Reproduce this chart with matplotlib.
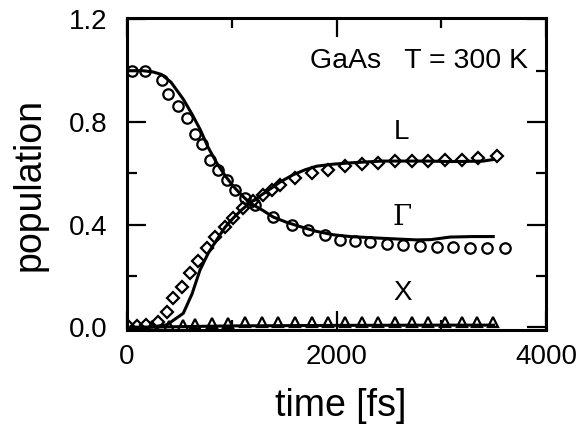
import matplotlib
matplotlib.use("Agg")
import matplotlib.pyplot as plt
from matplotlib.ticker import MultipleLocator

plt.rcParams['font.family'] = ['Liberation Sans', 'DejaVu Sans']

# Gamma valley, simulation (circles) and model (line)
gamma_t = [45, 172, 331, 394, 490, 569, 649, 713, 792, 871, 951, 1031, 1126, 1221,
           1396, 1571, 1730, 1889, 2032, 2176, 2319, 2478, 2637, 2796, 2955, 3114,
           3273, 3432, 3607]
gamma_v = [1.0, 1.0, 0.963, 0.911, 0.863, 0.817, 0.752, 0.713, 0.654, 0.615, 0.576,
           0.537, 0.504, 0.478, 0.43, 0.40, 0.378, 0.361, 0.341, 0.335, 0.331, 0.326,
           0.322, 0.318, 0.315, 0.315, 0.311, 0.309, 0.309]
gamma_fit_t = [0, 150, 250, 331, 420, 537, 617, 697, 776, 856, 935, 1014, 1094, 1174,
               1300, 1396, 1520, 1651, 1800, 1969, 2128, 2400, 2600, 2764, 2900, 3082,
               3300, 3496]
gamma_fit_v = [1.0, 1.0, 0.995, 0.985, 0.955, 0.889, 0.833, 0.772, 0.70, 0.641, 0.592,
               0.55, 0.515, 0.485, 0.455, 0.43, 0.41, 0.393, 0.375, 0.361, 0.354, 0.348,
               0.344, 0.341, 0.342, 0.352, 0.354, 0.354]

# L valley (diamonds)
L_t = [20, 100, 180, 299, 379, 442, 522, 601, 680, 761, 840, 935, 1014, 1110, 1205,
       1300, 1380, 1460, 1603, 1762, 1921, 2080, 2240, 2398, 2557, 2717, 2875, 3034,
       3194, 3352, 3528]
L_v = [0.0, 0.005, 0.01, 0.022, 0.061, 0.113, 0.159, 0.211, 0.257, 0.309, 0.354, 0.393,
       0.426, 0.465, 0.491, 0.517, 0.537, 0.556, 0.583, 0.602, 0.615, 0.628, 0.635,
       0.641, 0.648, 0.648, 0.65, 0.654, 0.654, 0.661, 0.667]
L_fit_t = [0, 200, 380, 537, 620, 697, 776, 856, 935, 1014, 1094, 1174, 1333, 1460,
           1587, 1700, 1810, 1969, 2128, 2430, 2875, 3100, 3400, 3496]
L_fit_v = [0, 0, 0.01, 0.055, 0.13, 0.224, 0.29, 0.341, 0.39, 0.426, 0.458, 0.485,
           0.53, 0.566, 0.595, 0.614, 0.628, 0.636, 0.641, 0.648, 0.648, 0.646, 0.648,
           0.654]

# X valley (triangles)
X_t = [240, 400, 537, 649, 808, 967, 1126, 1285, 1444, 1603, 1762, 1921, 2080, 2240,
       2398, 2557, 2717, 2875, 3034, 3194, 3337, 3496]
X_v = [0.004, 0.007, 0.01, 0.013, 0.016, 0.018, 0.02, 0.021, 0.022, 0.022, 0.022,
       0.022, 0.023, 0.023, 0.023, 0.023, 0.023, 0.023, 0.023, 0.023, 0.023, 0.023]
X_fit_t = [0, 500, 1000, 2000, 3000, 3500]
X_fit_v = [0, 0.003, 0.006, 0.008, 0.009, 0.009]

fig = plt.figure(figsize=(5.84, 4.25), dpi=100)
ax = fig.add_axes([0.2175, 0.2235, 0.7175, 0.734])

mk = dict(linestyle='none', markerfacecolor='none', markeredgecolor='black',
          markeredgewidth=1.6, markersize=7.5)
ax.plot(gamma_t, gamma_v, marker='o', **mk)
ax.plot(L_t, L_v, marker='D', **dict(mk, markersize=6.3))
ax.plot(X_t, X_v, marker='^', **mk)
ax.plot(gamma_fit_t, gamma_fit_v, color='black', lw=2.2)
ax.plot(L_fit_t, L_fit_v, color='black', lw=2.2)
ax.plot(X_fit_t, X_fit_v, color='black', lw=2.2)

ax.set_xlim(0, 4000)
ax.set_ylim(-0.01, 1.205)
ax.set_xticks([0, 2000, 4000])
ax.set_yticks([0.0, 0.4, 0.8, 1.2])
ax.set_yticklabels(['0.0', '0.4', '0.8', '1.2'])
ax.xaxis.set_minor_locator(MultipleLocator(1000))
ax.yaxis.set_minor_locator(MultipleLocator(0.2))
ax.tick_params(which='both', direction='in', top=True, right=True, width=1.6,
               labelsize=20)
ax.tick_params(which='major', length=14)
ax.tick_params(which='minor', length=7)
ax.tick_params(axis='y', pad=14)
ax.tick_params(axis='x', pad=10)
for s in ax.spines.values():
    s.set_linewidth(2.2)

ax.set_xlabel('time [fs]', fontsize=27)
ax.set_ylabel('population', fontsize=27)
ax.yaxis.set_label_coords(-0.19, 0.465)
ax.xaxis.set_label_coords(0.51, -0.185)

ax.text(3830, 1.037, 'GaAs   T = 300 K', fontsize=20.5, ha='right', va='center')
ax.text(2621, 0.76, 'L', fontsize=20, ha='center', va='center')
ax.text(2621, 0.43, 'Γ', fontsize=20, ha='center', va='center', family='DejaVu Serif')
ax.text(2630, 0.134, 'X', fontsize=20, ha='center', va='center')

fig.savefig('out.png', dpi=100)
